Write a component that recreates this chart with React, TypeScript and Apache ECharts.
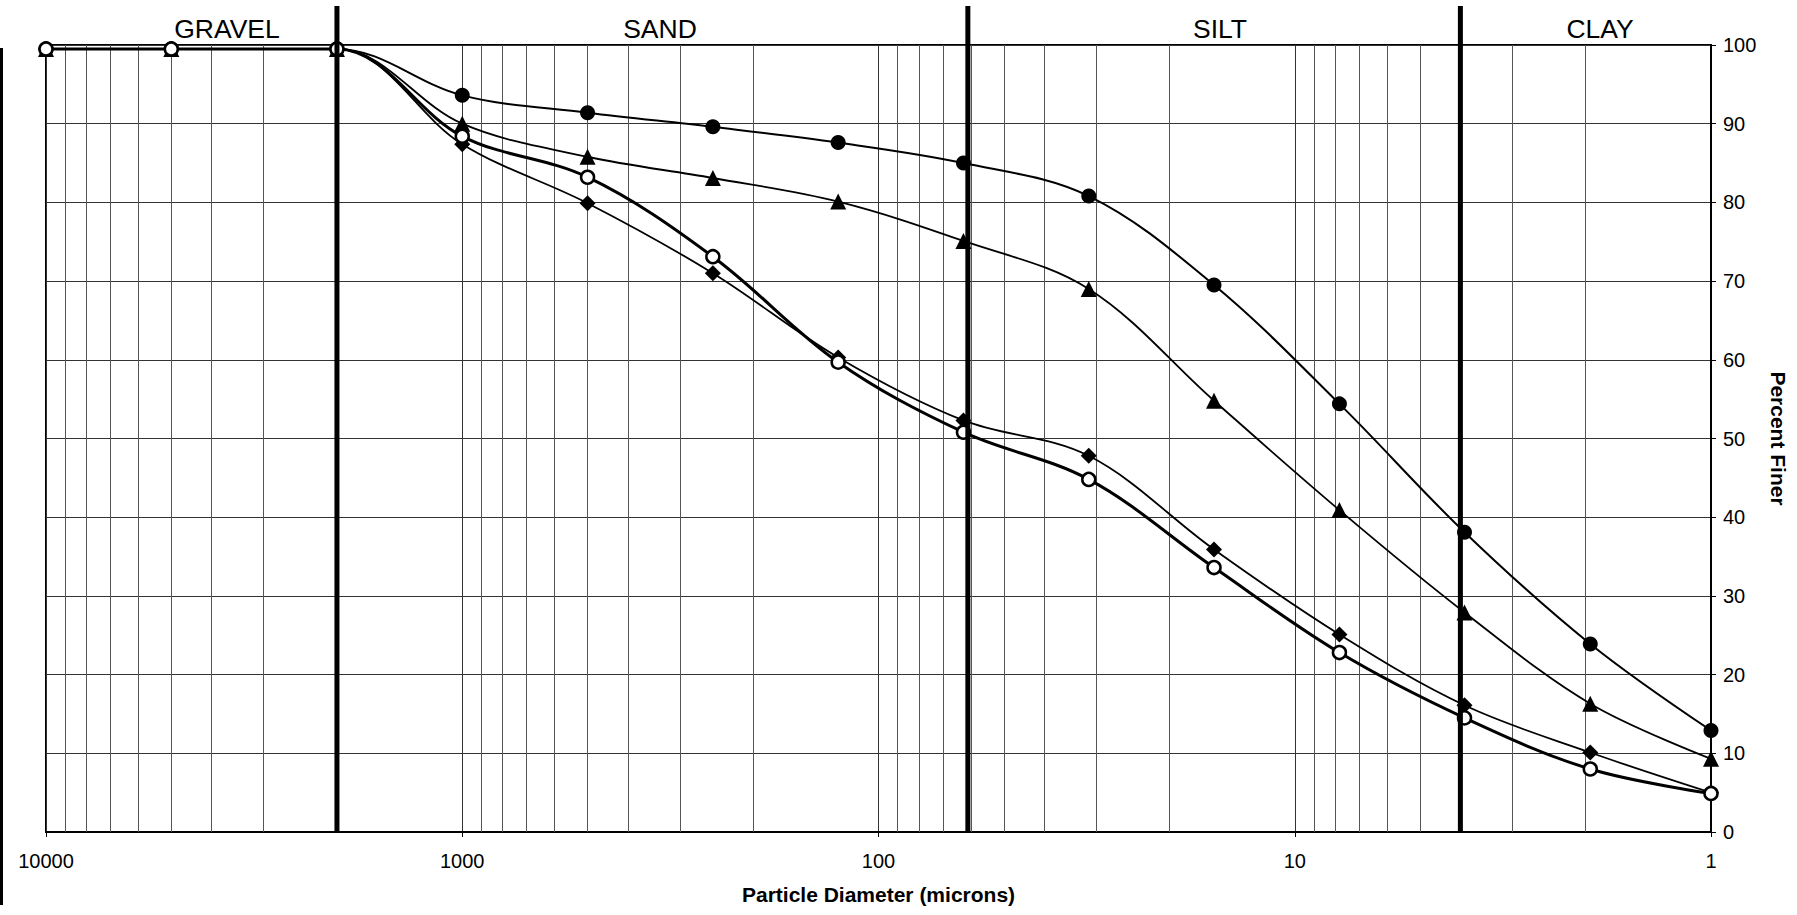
import React, { useEffect, useRef } from 'react';
import * as echarts from 'echarts';

// Particle diameters (microns) of each sieve / pipette reading
const diameters = [10000, 5000, 2000, 1000, 500, 250, 125, 62.5, 31.25, 15.63, 7.81, 3.91, 1.95, 1];

// Percent finer for each sample
const sampleFilledCircle = [99.5, 99.5, 99.5, 93.6, 91.4, 89.6, 87.6, 85.0, 80.8, 69.5, 54.4, 38.1, 23.9, 12.9];
const sampleTriangle = [99.5, 99.5, 99.5, 90.0, 85.8, 83.1, 80.1, 75.1, 69.0, 54.8, 40.9, 27.9, 16.3, 9.3];
const sampleDiamond = [99.5, 99.5, 99.5, 87.4, 79.9, 71.0, 60.3, 52.3, 47.8, 35.9, 25.1, 16.1, 10.1, 5.0];
const sampleOpenCircle = [99.5, 99.5, 99.5, 88.4, 83.2, 73.1, 59.7, 50.8, 44.8, 33.6, 22.8, 14.5, 8.0, 4.9];

// Size-class boundaries (microns) and class names
const classBoundaries = [2000, 61, 4];
const classNames = ['GRAVEL', 'SAND', 'SILT', 'CLAY'];

// Axis ticks
const decadeTicks = [1, 10, 100, 1000, 10000];
const minorMultipliers = [2, 3, 4, 5, 6, 7, 8, 9];

const FONT = '"Liberation Sans", Arial, Helvetica, sans-serif';

const zip = (ys: number[]) => diameters.map((d, i) => [d, ys[i]]);

export default function App() {
  const ref = useRef<HTMLDivElement>(null);

  useEffect(() => {
    if (!ref.current) return;
    const chart = echarts.init(ref.current, null, { renderer: 'svg' });

    const minorLines: any[] = [];
    decadeTicks.slice(0, -1).forEach((d) => {
      minorMultipliers.forEach((m) => minorLines.push({ xAxis: d * m }));
    });

    const lineSeries = (name: string, ys: number[], symbol: string, size: number, width: number, fill: string) => ({
      name,
      type: 'line',
      data: zip(ys),
      smooth: 0.35,
      symbol,
      symbolSize: size,
      showAllSymbol: true,
      lineStyle: { color: '#000', width },
      itemStyle: { color: fill, borderColor: '#000', borderWidth: fill === '#fff' ? 2.5 : 0 },
      z: 5,
    });

    chart.setOption({
      animation: false,
      backgroundColor: '#fff',
      grid: {
        left: 46,
        right: 75,
        top: 45,
        bottom: 83,
        show: true,
        borderColor: '#000',
        borderWidth: 2,
      },
      xAxis: {
        type: 'log',
        logBase: 10,
        min: 1,
        max: 10000,
        inverse: true,
        name: 'Particle Diameter (microns)',
        nameLocation: 'middle',
        nameGap: 52,
        nameTextStyle: { fontFamily: FONT, fontSize: 21, fontWeight: 'bold', color: '#000' },
        axisLine: { show: true, lineStyle: { color: '#000', width: 2 } },
        axisTick: { show: true, length: 5, lineStyle: { color: '#000' } },
        axisLabel: {
          fontFamily: FONT,
          fontSize: 20,
          color: '#000',
          margin: 19,
          formatter: (v: number) => String(Math.round(v)),
        },
        splitLine: { show: true, lineStyle: { color: '#333', width: 1 } },
      },
      yAxis: {
        type: 'value',
        position: 'right',
        min: 0,
        max: 100,
        interval: 10,
        name: 'Percent Finer',
        nameLocation: 'middle',
        nameRotate: -90,
        nameGap: 57,
        nameTextStyle: { fontFamily: FONT, fontSize: 21, fontWeight: 'bold', color: '#000' },
        axisLine: { show: true, lineStyle: { color: '#000', width: 2 } },
        axisTick: { show: true, length: 5, lineStyle: { color: '#000' } },
        axisLabel: { fontFamily: FONT, fontSize: 20, color: '#000', margin: 12 },
        splitLine: { show: true, lineStyle: { color: '#333', width: 1 } },
      },
      series: [
        {
          type: 'line',
          data: [[10000, 0], [1, 0]],
          symbol: 'none',
          lineStyle: { opacity: 0 },
          silent: true,
          z: 1,
          markLine: {
            silent: true,
            symbol: 'none',
            label: { show: false },
            lineStyle: { color: '#555', width: 1, type: 'solid' },
            data: minorLines,
          },
        },
        lineSeries('Filled circle', sampleFilledCircle, 'circle', 15, 2, '#000'),
        lineSeries('Triangle', sampleTriangle, 'triangle', 16, 1.8, '#000'),
        lineSeries('Diamond', sampleDiamond, 'diamond', 16, 1.8, '#000'),
        lineSeries('Open circle', sampleOpenCircle, 'circle', 13, 3, '#fff'),
      ],
    });

    const bottomPx = 915 - 83;
    const boundaryGraphics = classBoundaries.map((b) => {
      const x = chart.convertToPixel({ xAxisIndex: 0 }, b) as number;
      return {
        type: 'line',
        shape: { x1: x, y1: 6, x2: x, y2: bottomPx },
        style: { stroke: '#000', lineWidth: 5 },
        z: 10,
      };
    });
    const labelX = [227, 660, 1220, 1600];
    const labelGraphics = classNames.map((n, i) => ({
      type: 'text',
      x: labelX[i],
      y: 29,
      style: {
        text: n,
        fontFamily: FONT,
        fontSize: 26.5,
        fill: '#000',
        align: 'center',
        verticalAlign: 'middle',
      },
      z: 10,
    }));

    chart.setOption({
      graphic: [
        ...boundaryGraphics,
        ...labelGraphics,
        {
          type: 'line',
          shape: { x1: 1.5, y1: 48, x2: 1.5, y2: 905 },
          style: { stroke: '#000', lineWidth: 3 },
        },
      ],
    });

    return () => chart.dispose();
  }, []);

  return (
    <div
      ref={ref}
      style={{ position: 'fixed', left: 0, top: 0, width: 1797, height: 915, background: '#fff' }}
    />
  );
}
